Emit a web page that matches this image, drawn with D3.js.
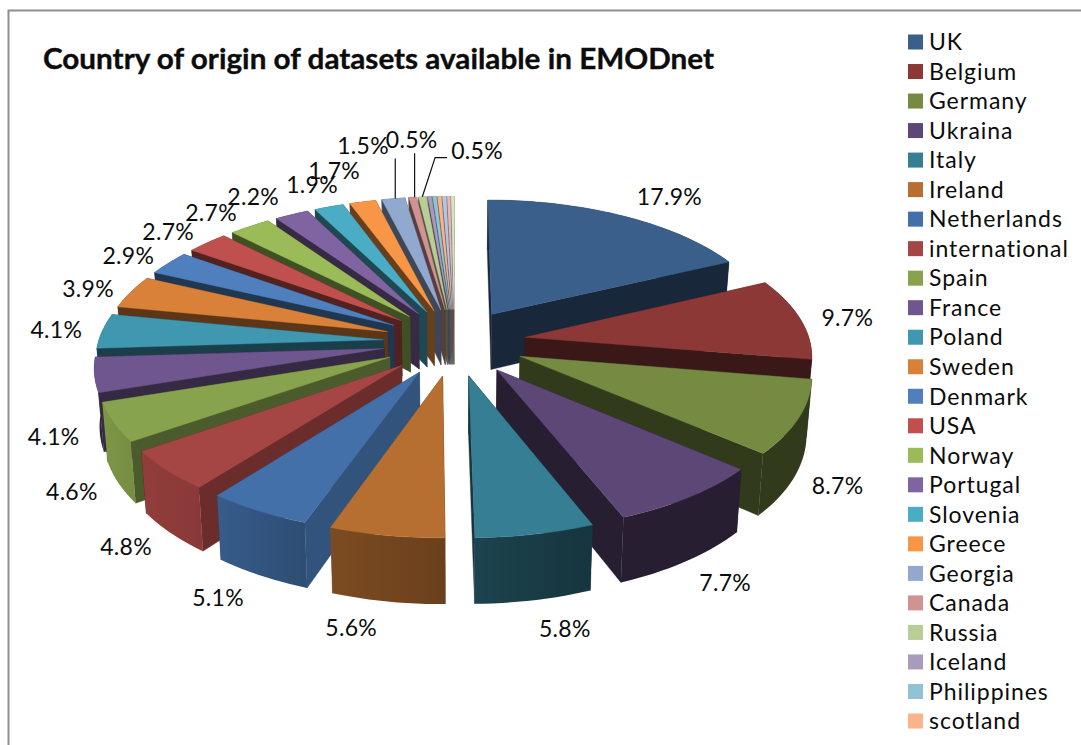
<!DOCTYPE html>
<html>
<head>
<meta charset="utf-8">
<script src="https://cdn.jsdelivr.net/npm/d3@7"></script>
<style>
html,body{margin:0;padding:0;background:#fff;overflow:hidden}
svg{display:block}
text{font-family:Lato,"Open Sans",sans-serif;fill:#0c0c0c}
</style>
</head>
<body>
<svg id="c" width="1081" height="745"></svg>
<script>
const title = "Country of origin of datasets available in EMODnet";
const categories = ["UK","Belgium","Germany","Ukraina","Italy","Ireland","Netherlands","international","Spain","France","Poland","Sweden","Denmark","USA","Norway","Portugal","Slovenia","Greece","Georgia","Canada","Russia","Iceland","Philippines","scotland"];
const values = [17.9,9.7,8.7,7.7,5.8,5.6,5.1,4.8,4.6,4.1,4.1,3.9,2.9,2.7,2.7,2.2,1.9,1.7,1.5,0.5,0.5,0.25,0.25,0.25,0.25,0.2,0.2];
const colors = ["#3a5f8b","#8b3836","#748b41","#5d4777","#357e93","#b66e31","#4370a8","#a64644","#88a34d","#70568f","#3f97b0","#da8139","#4f80bd","#c0504d","#9bbb59","#8064a2","#4bacc6","#f79646","#92a9cf","#d19392","#b9cd96","#a99bbd","#92c3d4","#f9b48a","#b3c7e3","#e6b9b8","#d7e4bd"];
const labelled = 21;
const labelNudge = [[34,-10],[20,1],[9,62],[14,71],[22,76],[-29,74],[-22,71],[-15,65],[-12,62],[-11,59],[-18,0],[-18,0],[-19,-2],[-21,-4],[-24,-5],[-27,-9],[-8,-13],[-22,-21],[-26,-43],[2,-47],[57,-36]];
const leaderSlices = [18,19,20];

const W = 1081, H = 745;
const cx = 454.5, cy = 342, ax = 285.2, ay = 134, persp = 0.118, explode = 0.25, depth = 56.5, inset = 0.015;
const svg = d3.select("#c");
const defs = svg.append("defs");

svg.append("path").attr("d","M1081,10.5H8.5V745").attr("fill","none").attr("stroke","#8f8f8f").attr("stroke-width",2);

const xs = d3.scaleLinear().domain([-1,1]).range([cx-ax,cx+ax]);
const ys = d3.scaleLinear().domain([-1,1]).range([cy-ay,cy+ay]);
const arcs = d3.pie().sort(null).value(d=>d)(values);

function project(angle, r, mid, h, ex = explode){
  const u = r*Math.sin(angle) + ex*Math.sin(mid);
  const v = -r*Math.cos(angle) - ex*Math.cos(mid);
  const w = 1/(1-persp*v);
  return [xs(u*w*(1-inset*h)), ys(v*w) + h*depth*w, v];
}
const shade = (c,f)=>{const k=d3.rgb(c);return d3.rgb(k.r*f,k.g*f,k.b*f).formatHex();};
const deg = a => a*180/Math.PI;
const rimNear = d3.scaleLinear().domain([179,199,216,252]).range([0.58,0.68,0.82,0.92]).clamp(true);
const rimFar = d3.scaleLinear().domain([159,179]).range([0.42,0.53]).clamp(true);
function rimShade(a, mid){
  if (deg(mid) > 253) return 0.42;
  const t = deg(a);
  return deg(mid) < 179 ? rimFar(t) : rimNear(t);
}
function wallShade(a){
  const t = deg(a);
  if (t < 195) return 0.42;
  if (t > 262) return 0.42;
  return 0.74 - (t-199)/63*0.32;
}
const line = d3.line();
const order = arcs.map((d,i)=>({d,i,mid:(d.startAngle+d.endAngle)/2}))
  .sort((a,b)=>(-Math.cos(a.mid))-(-Math.cos(b.mid)));

const pieG = svg.append("g");
order.forEach(({d,i,mid})=>{
  const col = colors[i];
  const g = pieG.append("g");
  const n = Math.max(2,Math.ceil((d.endAngle-d.startAngle)/0.03));
  const angles = d3.range(n+1).map(j=>d.startAngle+(d.endAngle-d.startAngle)*j/n);
  const apexT = project(0,0,mid,0), apexB = project(0,0,mid,1);
  const rimT = angles.map(a=>project(a,1,mid,0));
  const rimB = angles.map(a=>project(a,1,mid,1));
  const walls = [
    {a:d.startAngle, t:rimT[0], b:rimB[0]},
    {a:d.endAngle, t:rimT[n], b:rimB[n]}
  ].sort((p,q)=>p.t[2]-q.t[2]);
  walls.forEach(w=>{
    const f = shade(col,wallShade(w.a));
    g.append("path").attr("d",line([apexT,w.t,w.b,apexB].map(p=>p.slice(0,2)))+"Z")
      .attr("fill",f).attr("stroke",f).attr("stroke-width",0.4);
  });
  const gid = "rim"+i;
  const lg = defs.append("linearGradient").attr("id",gid).attr("gradientUnits","userSpaceOnUse")
    .attr("x1",rimT[0][0]).attr("x2",rimT[n][0]).attr("y1",0).attr("y2",0);
  lg.append("stop").attr("offset",0).attr("stop-color",shade(col,rimShade(d.startAngle,mid)));
  lg.append("stop").attr("offset",1).attr("stop-color",shade(col,rimShade(d.endAngle,mid)));
  g.append("path").attr("d",line(rimT.concat(rimB.slice().reverse()).map(p=>p.slice(0,2)))+"Z")
    .attr("fill",`url(#${gid})`);
  g.append("path").attr("d",line([apexT].concat(rimT).map(p=>p.slice(0,2)))+"Z")
    .attr("fill",col).attr("stroke",col).attr("stroke-width",0.4);
});

// data labels
const labelG = svg.append("g").attr("font-size",23).attr("letter-spacing",0.3);
arcs.slice(0,labelled).forEach((d,i)=>{
  const mid=(d.startAngle+d.endAngle)/2;
  const p = project(mid,1.35-explode,mid,0);
  const x = p[0]+labelNudge[i][0], y = p[1]+labelNudge[i][1];
  labelG.append("text").attr("x",x).attr("y",y).attr("dy","0.36em").attr("text-anchor","middle")
    .text(values[i].toFixed(1)+"%");
  if (leaderSlices.includes(i)){
    const r = project(mid,1,mid,0);
    const pts = i===20 ? [[r[0],r[1]],[x-42,y+7],[x-30,y+7]] : [[r[0]+2,r[1]],[r[0]+2,y+13]];
    labelG.append("path").attr("d",line(pts)).attr("fill","none").attr("stroke","#111").attr("stroke-width",1.2);
  }
});

// title
svg.append("text").attr("x",43).attr("y",68.5).attr("font-size",28).attr("font-weight",700)
  .attr("stroke","#0c0c0c").attr("stroke-width",0.35)
  .attr("textLength",671).attr("lengthAdjust","spacingAndGlyphs").text(title);

// legend
const ly = d3.scalePoint().domain(categories).range([42,721]);
const leg = svg.append("g").selectAll("g").data(categories).join("g")
  .attr("transform",d=>`translate(908,${ly(d)})`);
leg.append("rect").attr("x",0).attr("y",-7.5).attr("width",15).attr("height",15).attr("fill",(d,i)=>colors[i]);
leg.append("text").attr("x",21).attr("y",0).attr("dy","0.36em").attr("font-size",23).attr("letter-spacing",0.95).text(d=>d);
</script>
</body>
</html>
